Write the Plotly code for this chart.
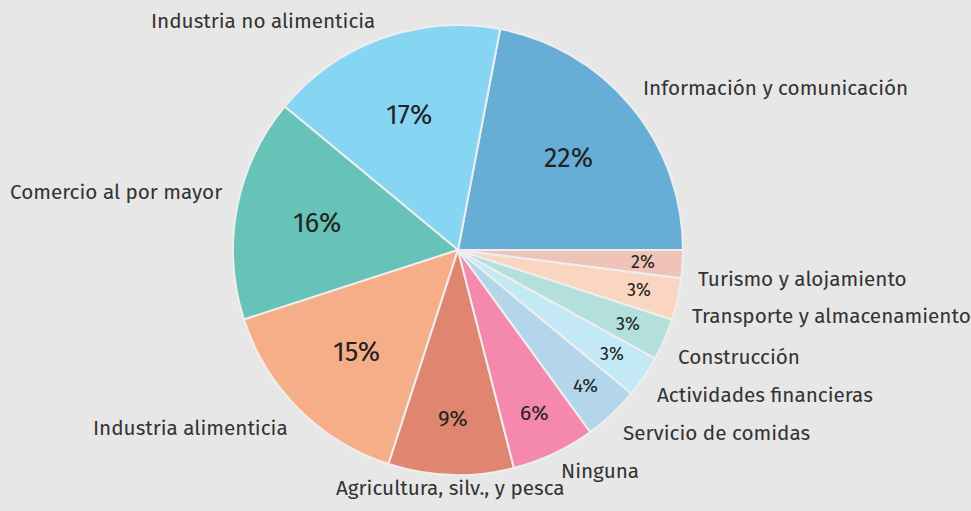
import math
import plotly.graph_objects as go

categories = ["Información y comunicación", "Industria no alimenticia", "Comercio al por mayor",
              "Industria alimenticia", "Agricultura, silv., y pesca", "Ninguna",
              "Servicio de comidas", "Actividades financieras", "Construcción",
              "Transporte y almacenamiento", "Turismo y alojamiento"]
values = [22, 17, 16, 15, 9, 6, 4, 3, 3, 3, 2]
colors = ["#67aed6", "#86d5f3", "#67c2b8", "#f5ae87", "#e08670", "#f589ad",
          "#b3d6ea", "#c3e9f6", "#b3e0da", "#fad5c0", "#f0c3b9"]
pct_sizes = [27, 27, 27, 27, 22, 21, 19, 18, 18, 18, 18]

W, H = 971, 511
cx, cy, R = 458, 250, 225
FONT = "Fira Sans, Noto Sans, Open Sans, sans-serif"
total = sum(values)
# first slice starts at 3 o'clock and runs counterclockwise
rot = 90 - 360 * values[0] / total

fig = go.Figure()
fig.add_trace(go.Pie(
    labels=categories, values=values, sort=False, direction="counterclockwise",
    rotation=rot, marker=dict(colors=colors, line=dict(color="#eeeeee", width=2)),
    textinfo="none", hoverinfo="label+percent",
    domain=dict(x=[(cx - R) / W, (cx + R) / W], y=[1 - (cy + R) / H, 1 - (cy - R) / H]),
    showlegend=False,
))

# text placed along each slice's mid-angle (derived from the data)
annotations = []
cum = 0.0
for lab, v, fs in zip(categories, values, pct_sizes):
    mid = 2 * math.pi * (cum + v / 2) / total
    cum += v
    c, s = math.cos(mid), math.sin(mid)
    # percentage inside the slice
    rf = min(0.825, 0.64 + 0.018 * max(0, 15 - v))
    px, py = cx + R * rf * c, cy - R * rf * s
    annotations.append(dict(
        x=px / W, y=1 - py / H, xref="paper", yref="paper", showarrow=False,
        text=f"{round(100 * v / total)}%", xanchor="center", yanchor="middle",
        font=dict(size=fs, color="#222222", family=FONT)))
    # category label outside
    Rl = R + 13
    lx = cx + Rl * c
    ly = cy - Rl * s - 14 * abs(c) * (1 if s > 0 else -1)
    xa = "left" if c > 0.1 else ("right" if c < -0.1 else "center")
    annotations.append(dict(
        x=lx / W, y=1 - ly / H, xref="paper", yref="paper", showarrow=False,
        text=lab, xanchor=xa, yanchor="middle",
        font=dict(size=20.7, color="#333333", family=FONT)))

fig.update_layout(
    width=W, height=H, margin=dict(l=0, r=0, t=0, b=0),
    paper_bgcolor="#e7e7e7", plot_bgcolor="#e7e7e7",
    font=dict(family=FONT), annotations=annotations,
)
fig.write_html("out.html", config={"displayModeBar": False}, post_script=(
    "document.body.style.margin='0';"
    "document.documentElement.style.overflow='hidden';"))
